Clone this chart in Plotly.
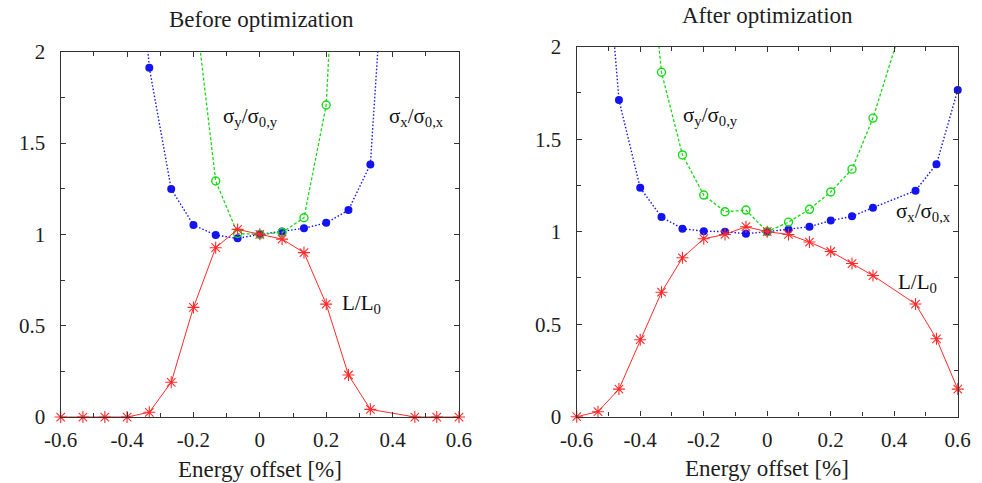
import plotly.graph_objects as go

# Energy offset grid [%] (no measurement at +0.4)
energy = [-0.6, -0.533, -0.467, -0.4, -0.333, -0.267, -0.2, -0.133, -0.067, 0.0,
          0.067, 0.133, 0.2, 0.267, 0.333, 0.467, 0.533, 0.6]

# Before optimization
lumi_before = [0.0, 0.0, 0.0, 0.0, 0.026, 0.19, 0.60, 0.927, 1.027, 1.0,
               0.974, 0.90, 0.618, 0.23, 0.042, 0.0, 0.0, 0.0]
sigx_before = [None, None, None, 3.4, 1.912, 1.248, 1.051, 0.996, 0.978, 1.0,
               1.016, 1.033, 1.063, 1.133, 1.383, 5.1, None, None]
sigy_before = [None, None, None, None, None, None, 2.32, 1.292, 1.005, 1.0,
               1.01, 1.091, 1.708, 4.1, None, None, None, None]

# After optimization
lumi_after = [0.0, 0.027, 0.149, 0.416, 0.673, 0.859, 0.962, 0.985, 1.027, 1.0,
              0.985, 0.944, 0.893, 0.828, 0.763, 0.609, 0.421, 0.149]
sigx_after = [None, 3.09, 1.712, 1.237, 1.079, 1.016, 1.003, 1.0, 0.989, 1.0,
              1.012, 1.027, 1.06, 1.083, 1.13, 1.222, 1.365, 1.766]
sigy_after = [None, None, None, 3.0, 1.862, 1.415, 1.198, 1.108, 1.117, 1.0,
              1.052, 1.121, 1.215, 1.338, 1.614, 2.35, None, None]

x_tickvals = [-0.6, -0.4, -0.2, 0.0, 0.2, 0.4, 0.6]
x_ticktext = ["-0.6", "-0.4", "-0.2", "0", "0.2", "0.4", "0.6"]
y_tickvals = [0.0, 0.5, 1.0, 1.5, 2.0]
y_ticktext = ["0", "0.5", "1", "1.5", "2"]

panel_titles = ["Before optimization", "After optimization"]
x_title = "Energy offset [%]"
lbl_sigy = "σ<sub>y</sub>/σ<sub>0,y</sub>"
lbl_sigx = "σ<sub>x</sub>/σ<sub>0,x</sub>"
lbl_lumi = "L/L<sub>0</sub>"

SERIF = "Liberation Serif"
INK = "#1e1e1e"
BLUE = "#1414f0"
GREEN = "#18d818"
RED = "#ff2a2a"
YMAX = 2.0

fig = go.Figure()


def add_series(x, y, xa, ya, color, dash, width, symbol, msize, mline):
    # connecting line, clipped to the frame
    fig.add_trace(go.Scatter(x=x, y=y, xaxis=xa, yaxis=ya, mode="lines",
                             line=dict(color=color, width=width, dash=dash),
                             connectgaps=False, showlegend=False, hoverinfo="skip"))
    # point symbols for the in-range samples, drawn whole at the frame edges
    px = [a for a, b in zip(x, y) if b is not None and b <= YMAX]
    py = [b for b in y if b is not None and b <= YMAX]
    fig.add_trace(go.Scatter(x=px, y=py, xaxis=xa, yaxis=ya, mode="markers",
                             marker=dict(symbol=symbol, size=msize, color=color,
                                         line=dict(color=color, width=mline)),
                             cliponaxis=False, showlegend=False))


for xa, ya, sx, sy, lum in [("x", "y", sigx_before, sigy_before, lumi_before),
                            ("x2", "y2", sigx_after, sigy_after, lumi_after)]:
    add_series(energy, sx, xa, ya, BLUE, "1.5px,2px", 1.4, "circle", 8, 0)
    add_series(energy, sy, xa, ya, GREEN, "3px,2px", 1.3, "circle-open", 8, 1.4)
    add_series(energy, lum, xa, ya, RED, "solid", 1.0, "asterisk-open", 10, 1.1)

axis_common = dict(showline=True, mirror="ticks", linecolor="#333333", linewidth=1.4,
                   ticks="inside", ticklen=5, tickcolor="#333333", tickwidth=1,
                   showgrid=False, zeroline=False, automargin=False,
                   tickfont=dict(family=SERIF, size=21, color=INK))

xaxis_common = dict(axis_common, range=[-0.6, 0.6], tickmode="array",
                    tickvals=x_tickvals, ticktext=x_ticktext, ticklabelstandoff=4,
                    minor=dict(dtick=0.1, tick0=0, ticks="inside", ticklen=4,
                               tickcolor="#333333", showgrid=False))
yaxis_common = dict(axis_common, range=[0, 2], tickmode="array",
                    tickvals=y_tickvals, ticktext=y_ticktext, ticklabelstandoff=10,
                    minor=dict(dtick=0.25, tick0=0, ticks="inside", ticklen=4,
                               tickcolor="#333333", showgrid=False))

fig.update_layout(
    width=982, height=483,
    margin=dict(l=0, r=0, t=0, b=0, autoexpand=False),
    paper_bgcolor="white", plot_bgcolor="white",
    xaxis=dict(xaxis_common, domain=[0.0618, 0.4674], anchor="y"),
    yaxis=dict(yaxis_common, domain=[0.1366, 0.893], anchor="x"),
    xaxis2=dict(xaxis_common, domain=[0.5873, 0.9753], anchor="y2"),
    yaxis2=dict(yaxis_common, domain=[0.1373, 0.9033], anchor="x2"),
)

title_font = dict(family=SERIF, size=23, color=INK)
ann_font = dict(family=SERIF, size=21, color="#111111")


def paper_text(text, xpx, ypx, font):
    return dict(text=text, x=xpx / 982, y=1 - ypx / 483, xref="paper", yref="paper",
                xanchor="center", yanchor="middle", showarrow=False, font=font)


annotations = [
    # panel titles
    paper_text(panel_titles[0], 261, 19, title_font),
    paper_text(panel_titles[1], 767, 16, title_font),
    # axis titles
    paper_text(x_title, 260, 469, title_font),
    paper_text(x_title, 767, 468, title_font),
    # curve labels, before
    dict(text=lbl_sigy, x=-0.027, y=1.64, xref="x", yref="y", showarrow=False, font=ann_font),
    dict(text=lbl_sigx, x=0.473, y=1.64, xref="x", yref="y", showarrow=False, font=ann_font),
    dict(text=lbl_lumi, x=0.307, y=0.62, xref="x", yref="y", showarrow=False, font=ann_font),
    # curve labels, after
    dict(text=lbl_sigy, x=-0.179, y=1.625, xref="x2", yref="y2", showarrow=False, font=ann_font),
    dict(text=lbl_sigx, x=0.492, y=1.105, xref="x2", yref="y2", showarrow=False, font=ann_font),
    dict(text=lbl_lumi, x=0.473, y=0.72, xref="x2", yref="y2", showarrow=False, font=ann_font),
    # slide heading running off the top edge
    dict(text="<b>gy</b>", x=20 / 982, y=1 + 8 / 483, xref="paper", yref="paper",
         xanchor="left", yanchor="bottom", showarrow=False,
         font=dict(family="Liberation Sans", size=22, color="#f08020")),
]
fig.update_layout(annotations=annotations)

fig.write_html("out.html")
